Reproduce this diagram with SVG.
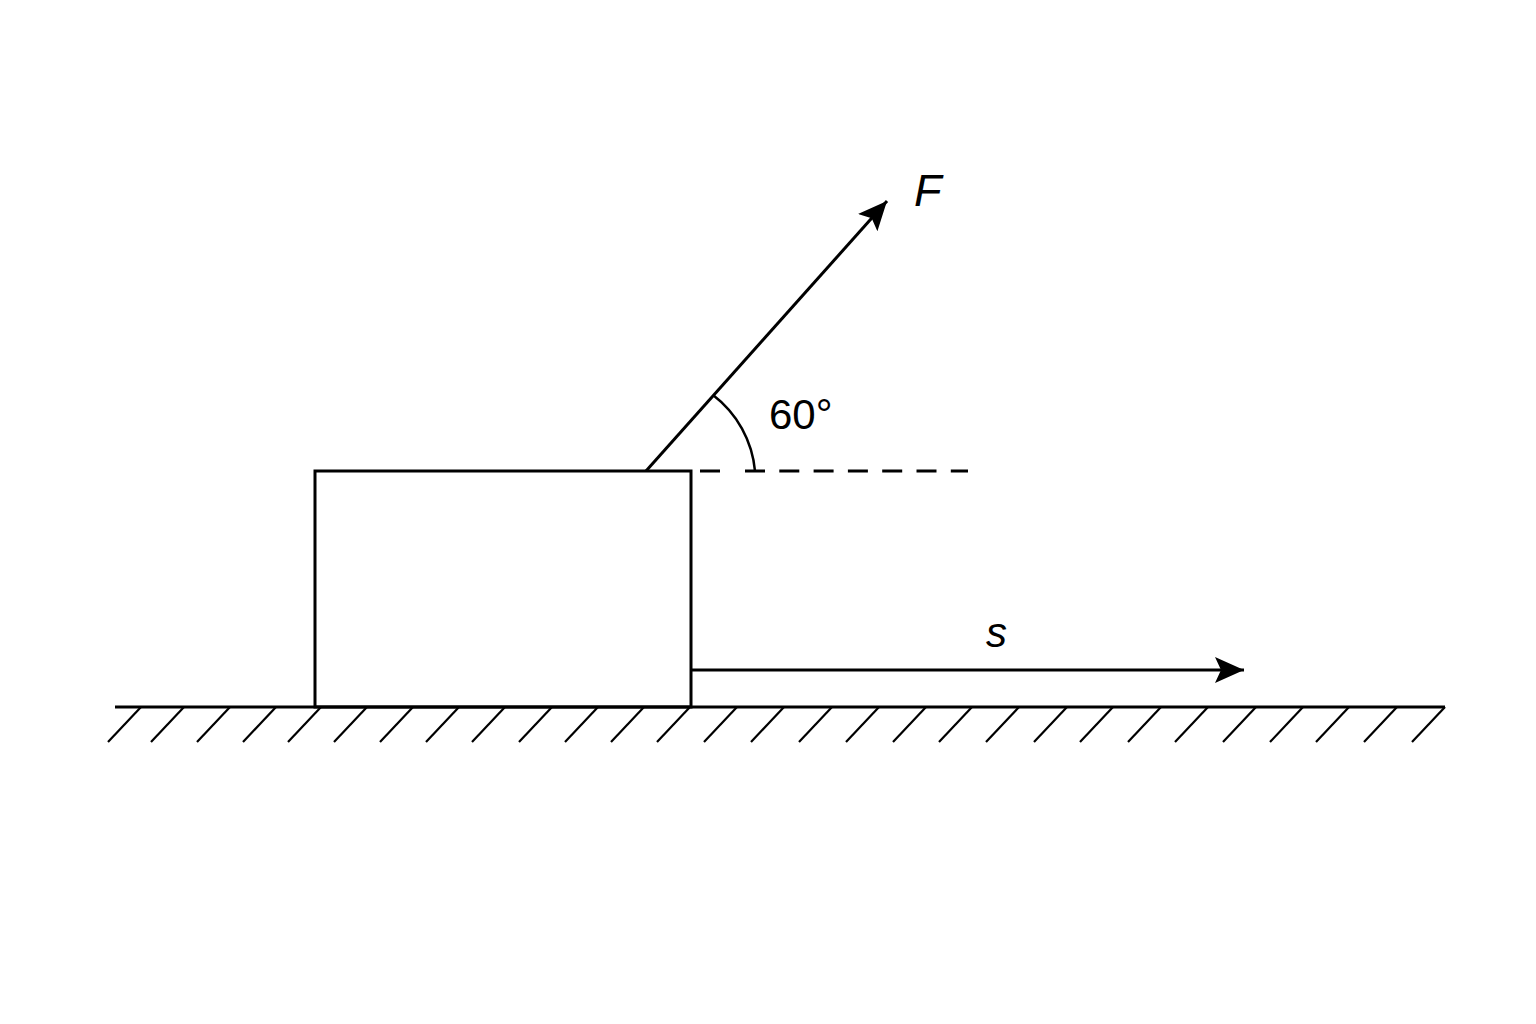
<svg xmlns="http://www.w3.org/2000/svg" width="1536" height="1024" viewBox="0 0 1536 1024">
<defs>
<style>
.ln{stroke:#000;stroke-width:3;fill:none;stroke-linecap:butt}
.h{stroke:#000;stroke-width:2.2;fill:none}
.lbl{font-family:"Liberation Sans",Arial,sans-serif;fill:#000}
</style>
<marker id="ah" markerUnits="userSpaceOnUse" markerWidth="32" markerHeight="28" refX="29" refY="13" orient="auto">
<path d="M0,0 L29,13 L0,26 L6,13 Z" fill="#000"/>
</marker>
</defs>
<rect width="1536" height="1024" fill="#fff"/>
<g id="ground">
<line class="ln" x1="115" y1="707" x2="1445" y2="707"/>
<g class="h">
<line x1="141" y1="707" x2="108" y2="742"/>
<line x1="184" y1="707" x2="151" y2="742"/>
<line x1="230" y1="707" x2="197" y2="742"/>
<line x1="276" y1="707" x2="243" y2="742"/>
<line x1="321" y1="707" x2="288" y2="742"/>
<line x1="367" y1="707" x2="334" y2="742"/>
<line x1="413" y1="707" x2="380" y2="742"/>
<line x1="459" y1="707" x2="426" y2="742"/>
<line x1="505" y1="707" x2="472" y2="742"/>
<line x1="552" y1="707" x2="519" y2="742"/>
<line x1="598" y1="707" x2="565" y2="742"/>
<line x1="644" y1="707" x2="611" y2="742"/>
<line x1="690" y1="707" x2="657" y2="742"/>
<line x1="737" y1="707" x2="704" y2="742"/>
<line x1="784" y1="707" x2="751" y2="742"/>
<line x1="832" y1="707" x2="799" y2="742"/>
<line x1="879" y1="707" x2="846" y2="742"/>
<line x1="926" y1="707" x2="893" y2="742"/>
<line x1="972" y1="707" x2="939" y2="742"/>
<line x1="1019" y1="707" x2="986" y2="742"/>
<line x1="1067" y1="707" x2="1034" y2="742"/>
<line x1="1113" y1="707" x2="1080" y2="742"/>
<line x1="1161" y1="707" x2="1128" y2="742"/>
<line x1="1208" y1="707" x2="1175" y2="742"/>
<line x1="1256" y1="707" x2="1223" y2="742"/>
<line x1="1303" y1="707" x2="1270" y2="742"/>
<line x1="1349" y1="707" x2="1316" y2="742"/>
<line x1="1397" y1="707" x2="1364" y2="742"/>
<line x1="1445" y1="707" x2="1412" y2="742"/>
</g>
</g>
<g id="block">
<rect class="ln" x="315" y="471" width="376" height="236"/>
</g>
<g id="connectors">
<line class="ln" x1="646" y1="471" x2="887" y2="201" marker-end="url(#ah)"/>
<line class="ln" x1="691" y1="670" x2="1244" y2="670" marker-end="url(#ah)"/>
<line class="ln" x1="700" y1="471" x2="968" y2="471" stroke-dasharray="20 25 20 14.3 20 14.3 20 14.3 20 14.3 20 14.3 20 14.3 20 100"/>
<path d="M713,395 A108,108 0 0 1 755,471" fill="none" stroke="#000" stroke-width="2.5"/>
</g>
<g id="labels">
<text class="lbl" x="769" y="429" font-size="42">60°</text>
<text class="lbl" x="914" y="206" font-size="45" font-style="italic">F</text>
<text class="lbl" x="986" y="647" font-size="42" font-style="italic">s</text>
</g>
</svg>
